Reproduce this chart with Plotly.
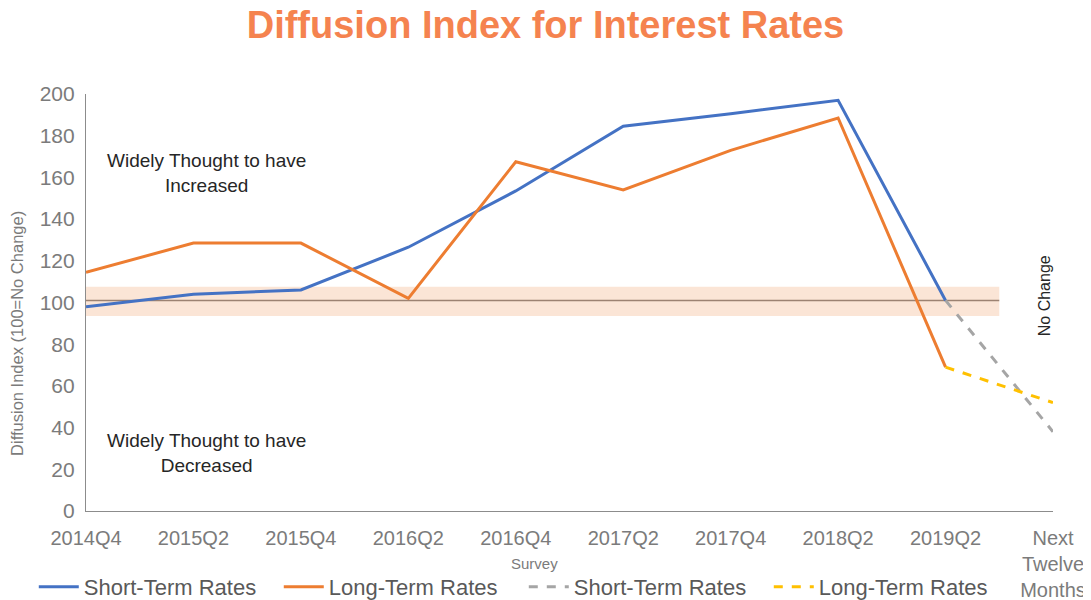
import plotly.graph_objects as go

periods = ["2014Q4", "2015Q2", "2015Q4", "2016Q2", "2016Q4",
           "2017Q2", "2017Q4", "2018Q2", "2019Q2", "Next<br>Twelve<br>Months"]

short_term = [98, 104, 106, 126.5, 153.5, 184.5, 190.5, 197, 101]
long_term = [114.5, 128.5, 128.5, 102, 167.5, 154, 173, 188.5, 69]

short_term_outlook = [101, 38]
long_term_outlook = [69, 52]

no_change = 101
band_low, band_high = 93.5, 107.5

tick_gray = "#7b7b7b"

fig = go.Figure()

fig.add_trace(go.Scatter(
    x=periods[:9], y=short_term, mode="lines", name="Short-Term Rates",
    line={"color": "#4472c4", "width": 3},
))
fig.add_trace(go.Scatter(
    x=periods[:9], y=long_term, mode="lines", name="Long-Term Rates",
    line={"color": "#ed7d31", "width": 3},
))
fig.add_trace(go.Scatter(
    x=periods[8:], y=short_term_outlook, mode="lines", name="Short-Term Rates",
    line={"color": "#a5a5a5", "width": 3, "dash": "dash"},
))
fig.add_trace(go.Scatter(
    x=periods[8:], y=long_term_outlook, mode="lines", name="Long-Term Rates",
    line={"color": "#ffc000", "width": 3, "dash": "dash"},
))

# no-change band and line
fig.add_shape(type="rect", xref="x", yref="y", x0=0, x1=8.5,
              y0=band_low, y1=band_high, fillcolor="#fbe5d6",
              line={"width": 0}, layer="below")
fig.add_shape(type="line", xref="x", yref="y", x0=0, x1=8.5,
              y0=no_change, y1=no_change,
              line={"color": "#9c8272", "width": 1.5}, layer="below")

fig.add_annotation(x=0.125, xref="paper", y=162, yref="y", xanchor="center",
                   text="Widely Thought to have<br>Increased", showarrow=False,
                   font={"size": 19, "color": "#262626"})
fig.add_annotation(x=0.125, xref="paper", y=28, yref="y", xanchor="center",
                   text="Widely Thought to have<br>Decreased", showarrow=False,
                   font={"size": 19, "color": "#262626"})
fig.add_annotation(x=0.9907, xref="paper", y=103, yref="y", xanchor="center",
                   text="No Change", textangle=-90, showarrow=False,
                   font={"size": 16, "color": "#262626"})
fig.add_annotation(x=0.464, xref="paper", y=-0.125, yref="paper",
                   xanchor="center", yanchor="middle",
                   text="Survey", showarrow=False,
                   font={"size": 15, "color": tick_gray})
fig.add_annotation(x=-0.0714, xref="paper", y=0.427, yref="paper",
                   xanchor="center", yanchor="middle",
                   text="Diffusion Index (100=No Change)", textangle=-90,
                   showarrow=False, font={"size": 16.5, "color": tick_gray})

# page body adds an 8px margin, so the figure is 8px smaller than the window
fig.update_layout(
    width=1083, height=592,
    margin={"l": 78, "r": 38, "t": 86, "b": 89, "autoexpand": False},
    plot_bgcolor="white", paper_bgcolor="white",
    font={"family": "Liberation Sans, Arial, sans-serif", "color": tick_gray},
    title={
        "text": "<b>Diffusion Index for Interest Rates</b>",
        "x": 0.4963, "xanchor": "center", "y": 0.972, "yanchor": "middle",
        "font": {"family": "Liberation Sans Narrow, Arial Narrow, sans-serif",
                 "size": 38, "color": "#f5834f"},
    },
    showlegend=True,
    legend={"orientation": "h", "x": -0.054, "xanchor": "left",
            "y": -0.182, "yanchor": "middle",
            "font": {"size": 22, "color": "#595959"},
            "itemwidth": 40, "tracegroupgap": 0,
            "entrywidth": 190, "entrywidthmode": "pixels"},
)
fig.update_xaxes(
    type="category", range=[0, 9], showgrid=False, automargin=False,
    showline=True, linecolor="#8c8c8c", linewidth=1.25,
    ticks="", tickfont={"size": 20, "color": tick_gray},
    ticklabelstandoff=9,
)
fig.update_yaxes(
    range=[0, 200], dtick=20, showgrid=False, zeroline=False, automargin=False,
    showline=True, linecolor="#8c8c8c", linewidth=1.25,
    ticks="", tickfont={"size": 21, "color": tick_gray},
    ticklabelstandoff=6,
)

fig.write_html("out.html")
